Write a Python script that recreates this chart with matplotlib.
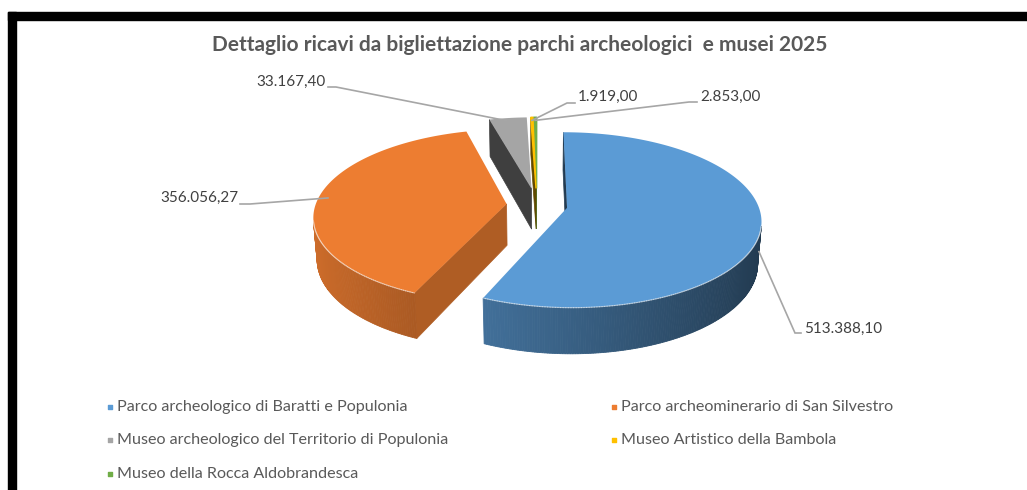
import numpy as np
import matplotlib
matplotlib.use('Agg')
import matplotlib.pyplot as plt
from matplotlib.patches import Polygon, Rectangle
from matplotlib.colors import to_rgb

# Data
categories = [
    "Parco archeologico di Baratti e Populonia",
    "Parco archeominerario di San Silvestro",
    "Museo archeologico del Territorio di Populonia",
    "Museo Artistico della Bambola",
    "Museo della Rocca Aldobrandesca",
]
values = [513388.10, 356056.27, 33167.40, 1919.00, 2853.00]
colors = ['#5B9BD5', '#ED7D31', '#A5A5A5', '#FFC000', '#70AD47']
explode = [0.16, 0.16, 0.20, 0.20, 0.20]
title = "Dettaglio ricavi da bigliettazione parchi archeologici  e musei 2025"

# label placement (pixels): text x, text y, alignment, elbow end, anchor depth
label_pos = [
    (804, 329, 'left', (795, 333), (801, 333), 0.6),
    (238, 198, 'right', (250, 204), (240, 204), 0.0),
    (326, 82, 'right', (336, 87), (328, 87), 0.0),
    (578, 97, 'left', (567, 103), (575, 103), 0.0),
    (700, 97, 'left', (689, 102), (697, 102), 0.0),
]

FONT = ['Lato', 'DejaVu Sans']

# 3D view parameters
ELEV = np.radians(26.5)
DIST = 6.49
FOC = 1240
CX, CY = 537, 205
DEPTH = 0.246
cam = np.array([0.0, -DIST*np.cos(ELEV), DIST*np.sin(ELEV)])


def proj(X, Y, Z):
    yc = Y*np.sin(ELEV) + Z*np.cos(ELEV)
    d = DIST + Y*np.cos(ELEV) - Z*np.sin(ELEV)
    return CX + FOC*X/d, CY - FOC*yc/d


def shade(c, f):
    return tuple(np.clip(np.array(to_rgb(c))*f, 0, 1))


def it_fmt(v):
    s = f"{v:,.2f}"
    return s.replace(',', 'X').replace('.', ',').replace('X', '.')


fig = plt.figure(figsize=(10.27, 4.90), dpi=100)
ax = fig.add_axes([0, 0, 1, 1])
ax.set_xlim(0, 1027)
ax.set_ylim(490, 0)
ax.axis('off')

# frame
ax.add_patch(Rectangle((8, 12), 1019, 8, color='black', zorder=50))
ax.add_patch(Rectangle((8, 12), 8, 478, color='black', zorder=50))

total = sum(values)
cum = np.concatenate([[0], np.cumsum(values)]) / total * 360

slices = []
for i in range(len(values)):
    a1, a2 = cum[i], cum[i+1]
    mid = np.radians((a1 + a2) / 2)
    ox, oy = explode[i]*np.sin(mid), explode[i]*np.cos(mid)
    slices.append((i, a1, a2, ox, oy))

order = sorted(slices, key=lambda s: -s[4])
for rank, (i, a1, a2, ox, oy) in enumerate(order):
    z0 = 10 + rank
    col = colors[i]
    n = max(3, int((a2 - a1) * 1.5))
    th = np.radians(np.linspace(a1, a2, n))
    ex = ox + np.sin(th)
    ey = oy + np.cos(th)

    # cut faces
    for ang, nang in [(a1, a1 - 90), (a2, a2 + 90)]:
        r = np.radians(ang)
        nr = np.radians(nang)
        nvec = np.array([np.sin(nr), np.cos(nr), 0])
        if np.dot(cam - np.array([ox, oy, 0]), nvec) <= 0:
            continue
        pts = [proj(ox, oy, 0), proj(ox + np.sin(r), oy + np.cos(r), 0),
               proj(ox + np.sin(r), oy + np.cos(r), -DEPTH), proj(ox, oy, -DEPTH)]
        f = 0.74 if np.sin(nr) > 0 else 0.38
        c = shade(col, f)
        ax.add_patch(Polygon(pts, closed=True, facecolor=c, edgecolor=c,
                             lw=0.5, zorder=z0))

    # outer wall
    for j in range(n - 1):
        tm = (th[j] + th[j+1]) / 2
        P = np.array([ox + np.sin(tm), oy + np.cos(tm), -DEPTH/2])
        nvec = np.array([np.sin(tm), np.cos(tm), 0])
        if np.dot(cam - P, nvec) <= 0:
            continue
        f = 0.62 + 0.25*(-np.sin(tm))
        c = shade(col, f)
        pts = [proj(ex[j], ey[j], 0), proj(ex[j+1], ey[j+1], 0),
               proj(ex[j+1], ey[j+1], -DEPTH), proj(ex[j], ey[j], -DEPTH)]
        ax.add_patch(Polygon(pts, closed=True, facecolor=c, edgecolor=c,
                             lw=0.6, zorder=z0 + 0.1))
        rx, ry = proj(ex[j:j+2], ey[j:j+2], 0)
        ax.plot(rx, ry, color='white', alpha=0.45, lw=0.8, zorder=z0 + 0.3)

    # top face
    tx, ty = proj(np.concatenate([[ox], ex]), np.concatenate([[oy], ey]), 0)
    thin = (a2 - a1) < 3
    ax.add_patch(Polygon(np.column_stack([tx, ty]), closed=True, facecolor=col,
                         edgecolor=col if thin else 'none', lw=1.0 if thin else 0,
                         zorder=z0 + 0.2))

# data labels with leader lines
for (i, a1, a2, ox, oy), (lx, ly, ha, elb, tip, zf) in zip(slices, label_pos):
    mid = np.radians((a1 + a2) / 2)
    rad = 1.0 if zf > 0 else 0.95
    axx, ayy = proj(ox + rad*np.sin(mid), oy + rad*np.cos(mid), -DEPTH*zf)
    ax.plot([axx, elb[0], tip[0]], [ayy, elb[1], tip[1]], color='#A6A6A6',
            lw=1.2, zorder=30, solid_joinstyle='miter')
    ax.text(lx, ly, it_fmt(values[i]), ha=ha, va='center', fontsize=11,
            color='#404040', family=FONT, zorder=31)

# title
ax.text(520, 45, title, ha='center', va='center', fontsize=15,
        fontweight='bold', color='#595959', family=FONT)

# legend
leg_x = [108, 612]
leg_y = [407, 440, 474]
for k, (name, col) in enumerate(zip(categories, colors)):
    x = leg_x[k % 2]
    y = leg_y[k // 2]
    ax.scatter([x + 2], [y], marker='s', s=12, color=col, zorder=20)
    ax.text(x + 9, y, name, ha='left', va='center', fontsize=11.6,
            color='#595959', family=FONT)

fig.savefig('out.png', dpi=100)
